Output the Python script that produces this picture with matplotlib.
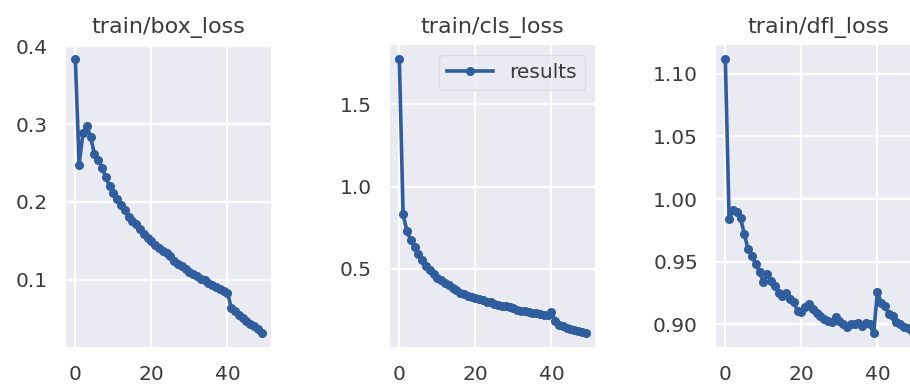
import matplotlib
matplotlib.use("Agg")
import matplotlib.pyplot as plt
import numpy as np

# per-epoch training losses (epochs 0-49)
epochs = np.arange(50)

box_loss = [0.384, 0.248, 0.288, 0.298, 0.284, 0.262, 0.254, 0.244, 0.232, 0.220,
            0.212, 0.203, 0.196, 0.189, 0.180, 0.175, 0.171, 0.165, 0.159, 0.153,
            0.150, 0.145, 0.141, 0.137, 0.134, 0.130, 0.124, 0.120, 0.117, 0.113,
            0.110, 0.107, 0.104, 0.101, 0.099, 0.096, 0.093, 0.090, 0.088, 0.085,
            0.083, 0.064, 0.059, 0.055, 0.051, 0.047, 0.043, 0.040, 0.036, 0.031]

cls_loss = [1.778, 0.830, 0.730, 0.675, 0.635, 0.590, 0.550, 0.515, 0.490, 0.465,
            0.445, 0.430, 0.415, 0.400, 0.385, 0.370, 0.355, 0.345, 0.335, 0.330,
            0.320, 0.315, 0.310, 0.300, 0.295, 0.288, 0.280, 0.275, 0.270, 0.265,
            0.258, 0.250, 0.245, 0.240, 0.235, 0.228, 0.230, 0.222, 0.218, 0.218,
            0.238, 0.180, 0.160, 0.150, 0.140, 0.130, 0.125, 0.118, 0.112, 0.107]

dfl_loss = [1.112, 0.984, 0.991, 0.990, 0.985, 0.972, 0.960, 0.955, 0.948, 0.942,
            0.934, 0.940, 0.935, 0.931, 0.925, 0.923, 0.925, 0.920, 0.918, 0.911,
            0.910, 0.914, 0.916, 0.912, 0.909, 0.907, 0.904, 0.903, 0.902, 0.906,
            0.903, 0.900, 0.898, 0.900, 0.900, 0.901, 0.899, 0.901, 0.900, 0.893,
            0.926, 0.917, 0.915, 0.908, 0.907, 0.902, 0.900, 0.898, 0.897, 0.895]

titles = ["train/box_loss", "train/cls_loss", "train/dfl_loss"]
series = [box_loss, cls_loss, dfl_loss]

plt.rcParams.update({
    "axes.facecolor": "#EAEAF2",
    "axes.edgecolor": "white",
    "axes.grid": True,
    "grid.color": "white",
    "grid.linewidth": 1.6,
    "axes.axisbelow": True,
    "text.color": "#3a3a3a",
    "xtick.color": "#3a3a3a",
    "ytick.color": "#3a3a3a",
    "xtick.major.size": 0,
    "ytick.major.size": 0,
    "xtick.major.pad": 13,
    "ytick.major.pad": 13,
    "xtick.labelsize": 14.5,
    "ytick.labelsize": 14.5,
    "axes.titlesize": 16,
    "font.family": "DejaVu Sans",
})

W, H = 910, 390
fig = plt.figure(figsize=(W / 100, H / 100), dpi=100)

# axes boxes in pixels: left, top, right, bottom
boxes = [(66, 45, 271, 347), (390, 45, 595, 347), (716, 45, 921, 347)]

for i, (title, y) in enumerate(zip(titles, series)):
    l, t, r, b = boxes[i]
    ax = fig.add_axes([l / W, (H - b) / H, (r - l) / W, (b - t) / H])
    ax.plot(epochs, y, marker=".", markersize=11, linewidth=2.6,
            color="#2f5d9e", label="results")
    ax.set_title(title, pad=9, color="#3a3a3a")
    for s in ax.spines.values():
        s.set_visible(False)
    ax.set_xticks([0, 20, 40])
    if i == 1:
        ax.legend(loc="upper right", fontsize=14.5, handlelength=2.3,
                  facecolor="#EAEAF2", edgecolor="#d8d8e0", framealpha=0.8)

fig.savefig("out.png", dpi=100)
